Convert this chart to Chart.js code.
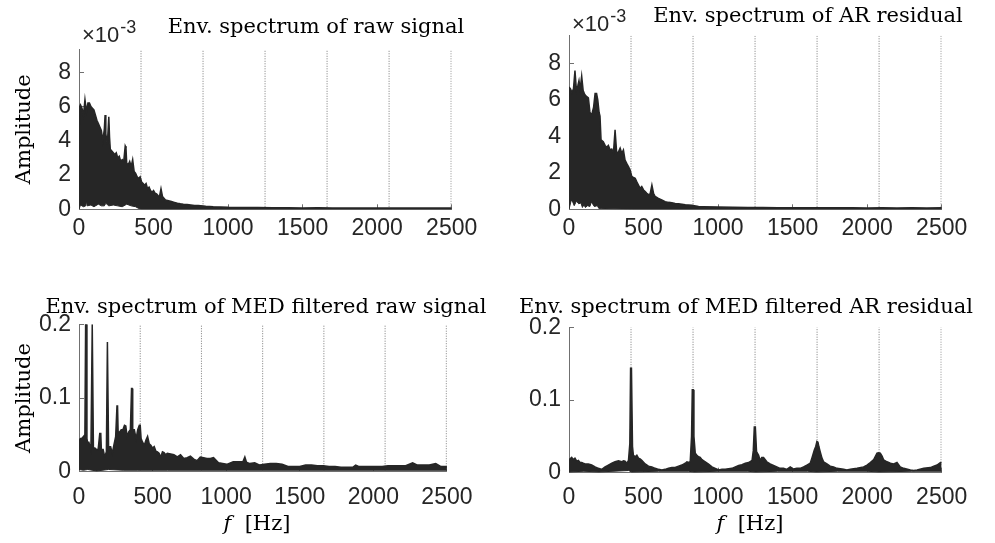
<!DOCTYPE html>
<html>
<head>
<meta charset="utf-8">
<script src="https://cdn.jsdelivr.net/npm/chart.js@4.4.0/dist/chart.umd.min.js"></script>
<style>
body { margin: 0; background: #fff; }
#wrap { position: relative; width: 995px; height: 543px; }
canvas { position: absolute; }
</style>
</head>
<body>
<div id="wrap">
<canvas id="c1" width="490" height="260" style="left:0;top:0"></canvas>
<canvas id="c2" width="505" height="260" style="left:490px;top:0"></canvas>
<canvas id="c3" width="490" height="283" style="left:0;top:260px"></canvas>
<canvas id="c4" width="505" height="283" style="left:490px;top:260px"></canvas>
</div>
<script>
// fault frequency harmonics (dotted lines), Hz
const faultHarmonics = [416, 832, 1248, 1664, 2080, 2496];

// envelope spectrum of raw signal, amplitude in units of 1e-3
const rawFreq = [0,5,10,20,30,40,50,60,70,80,
  90,100,110,120,130,140,150,160,170,175,
  180,190,200,205,210,220,230,240,250,260,
  270,280,290,300,310,315,320,330,340,350,
  360,370,380,390,400,410,420,430,440,450,
  460,470,480,490,500,510,520,530,540,550,
  560,570,580,600,620,640,660,680,700,725,
  750,775,800,850,900,950,1000,1100,1200,1300,
  1400,1500,1600,1700,1800,1900,2000,2100,2200,2300,
  2400,2500];
const rawUpper = [5.0,6.0,6.1,5.9,5.5,6.4,5.7,6.2,6.2,6.0,
  5.9,5.8,5.5,5.2,5.0,4.8,4.6,4.0,4.7,5.5,
  4.4,3.8,5.4,4.2,3.5,3.4,3.3,3.2,3.3,3.0,
  3.1,2.8,2.9,2.8,3.7,3.6,2.7,2.6,2.8,2.5,
  2.9,2.2,2.1,1.9,1.8,1.9,1.6,1.5,1.4,1.5,
  1.2,1.3,1.1,1.0,1.1,0.95,0.9,0.8,0.75,1.2,
  0.75,0.65,0.55,0.5,0.45,0.4,0.35,0.32,0.3,0.28,
  0.25,0.22,0.22,0.18,0.15,0.14,0.12,0.1,0.1,0.09,
  0.09,0.08,0.09,0.08,0.08,0.07,0.08,0.07,0.07,0.08,
  0.07,0.07];
const rawLowFreq = [0,10,30,45,50,55,80,100,130,150,170,180,200,230,260,290,320,350,380,400,420,2500];
const rawLower = [0,0.25,0.15,0.2,0.5,0.2,0.25,0.15,0.3,0.2,0.2,0.35,0.2,0.25,0.2,0.15,0.3,0.2,0.15,0.05,0,0];

// envelope spectrum of AR residual, amplitude in units of 1e-3
const arFreq = [0,10,20,30,40,50,60,67,75,85,
  95,105,115,130,140,150,165,175,185,193,
  202,208,215,230,242,253,264,276,287,298,
  309,320,332,343,354,365,376,388,399,410,
  421,432,444,455,466,477,488,500,511,522,
  533,544,556,567,578,600,622,645,668,690,
  712,735,780,824,869,900,1000,1100,1200,1300,
  1400,1500,1600,1700,1800,1900,2000,2100,2200,2300,
  2400,2500];
const arUpper = [6.7,6.6,6.4,6.6,7.6,6.5,6.8,7.05,6.6,7.3,
  6.5,6.3,6.2,6.1,5.35,5.1,5.6,6.35,6.35,6.0,
  5.3,5.1,3.8,3.7,3.5,3.4,3.5,3.25,3.3,3.1,
  4.35,3.07,3.15,3.35,3.07,3.25,2.7,2.5,2.34,2.15,
  1.8,1.75,1.7,1.5,1.33,1.15,1.25,1.06,0.97,0.88,
  0.8,0.85,1.33,0.88,0.7,0.6,0.52,0.42,0.38,0.36,
  0.32,0.3,0.25,0.22,0.15,0.14,0.12,0.11,0.1,0.1,
  0.09,0.09,0.08,0.09,0.08,0.08,0.07,0.08,0.07,0.08,
  0.07,0.08];
const arLowFreq = [0,15,25,35,50,65,80,90,100,110,125,140,150,170,190,200,215,430,2500];
const arLower = [0,0.5,0.4,0.2,0.45,0.3,0.35,0.1,0.25,0.1,0.2,0.15,0.4,0.15,0.2,0.05,0.05,0,0];

// envelope spectrum of MED filtered raw signal
const medRawFreq = [0,10,18,29,40,45,50,54,58,67,
  81,90,94,98,101,108,119,130,141,148,
  152,164,175,186,193,197,201,206,215,226,
  237,249,258,262,266,276,287,298,309,318,
  327,338,349,357,361,365,376,388,399,410,
  416,422,432,444,455,466,477,488,500,511,
  522,533,544,556,567,578,589,600,623,645,
  668,690,712,735,757,780,802,824,847,869,
  892,914,948,1004,1048,1093,1115,1127,1138,1160,
  1194,1228,1260,1300,1340,1380,1420,1460,1500,1540,
  1580,1620,1660,1700,1740,1780,1820,1860,1880,1900,
  1940,1980,2020,2060,2100,2140,2180,2220,2267,2300,
  2340,2380,2424,2460,2500];
const medRawUpper = [0.043,0.045,0.045,0.0475,0.05,0.2,0.2,0.045,0.04,0.04,
  0.03,0.2,0.2,0.032,0.032,0.032,0.03,0.03,0.052,0.052,
  0.03,0.03,0.02,0.027,0.176,0.176,0.034,0.034,0.034,0.025,
  0.036,0.0475,0.089,0.089,0.054,0.054,0.057,0.057,0.063,0.062,
  0.0475,0.054,0.057,0.113,0.113,0.057,0.057,0.045,0.057,0.063,
  0.063,0.045,0.04,0.036,0.043,0.048,0.038,0.036,0.032,0.034,
  0.028,0.027,0.025,0.02,0.027,0.026,0.023,0.025,0.024,0.023,
  0.02,0.023,0.018,0.019,0.021,0.017,0.015,0.02,0.019,0.018,
  0.018,0.019,0.012,0.01,0.0135,0.0135,0.014,0.02,0.013,0.011,
  0.012,0.009,0.01,0.011,0.011,0.01,0.007,0.007,0.007,0.009,
  0.009,0.008,0.008,0.007,0.007,0.006,0.006,0.006,0.009,0.007,
  0.007,0.007,0.007,0.007,0.008,0.008,0.008,0.008,0.012,0.009,
  0.009,0.009,0.011,0.007,0.007];
const medRawLowFreq = [0,30,60,120,200,300,400,600,1000,1500,2000,2500];
const medRawLower = [0.003,0.002,0.003,0.001,0.003,0.002,0.002,0.002,0.002,0.002,0.002,0.002];

// envelope spectrum of MED filtered AR residual
const medArFreq = [0,18,29,40,52,63,74,85,96,108,
  119,130,152,175,197,220,242,264,287,309,
  332,354,365,376,388,399,408,413,419,426,
  432,444,455,466,477,488,511,533,556,578,
  600,623,645,668,690,712,735,757,780,791,
  802,813,822,827,833,838,847,858,869,880,
  892,914,936,959,981,1004,1026,1048,1093,1138,
  1160,1183,1205,1228,1236,1243,1250,1258,1272,1282,
  1293,1305,1327,1349,1372,1394,1416,1439,1461,1484,
  1506,1528,1551,1573,1596,1618,1629,1645,1655,1663,
  1670,1676,1685,1697,1708,1730,1752,1775,1797,1842,
  1864,1887,1932,1976,1999,2021,2044,2066,2077,2088,
  2100,2111,2133,2156,2178,2200,2222,2245,2290,2312,
  2335,2380,2424,2447,2469,2492,2500];
const medArUpper = [0.018,0.021,0.018,0.02,0.016,0.017,0.014,0.014,0.013,0.012,
  0.012,0.012,0.0105,0.008,0.006,0.0046,0.008,0.0105,0.013,0.015,
  0.0165,0.015,0.0165,0.016,0.013,0.017,0.04,0.1436,0.1436,0.036,
  0.024,0.022,0.024,0.02,0.019,0.017,0.012,0.009,0.008,0.006,
  0.0046,0.0037,0.0046,0.006,0.0073,0.0073,0.009,0.0105,0.013,0.015,
  0.014,0.015,0.05,0.114,0.114,0.05,0.0266,0.024,0.022,0.021,
  0.018,0.015,0.012,0.008,0.006,0.0037,0.0046,0.0046,0.006,0.01,
  0.011,0.013,0.014,0.017,0.03,0.063,0.063,0.029,0.024,0.017,
  0.021,0.021,0.015,0.012,0.01,0.008,0.006,0.006,0.0046,0.008,
  0.005,0.006,0.006,0.008,0.0105,0.013,0.02,0.031,0.036,0.043,
  0.042,0.036,0.029,0.02,0.015,0.012,0.009,0.008,0.006,0.0046,
  0.0037,0.0046,0.006,0.008,0.0105,0.014,0.018,0.027,0.0275,0.027,
  0.023,0.0175,0.015,0.013,0.012,0.014,0.008,0.006,0.0037,0.003,
  0.0037,0.006,0.007,0.009,0.0105,0.014,0.014];
const medArLowFreq = [0,100,200,400,420,600,800,840,1000,1200,1250,1400,1600,1660,1800,2000,2080,2300,2500];
const medArLower = [0.001,0.002,0.001,0.003,0.001,0.002,0.002,0.001,0.002,0.002,0.001,0.002,0.002,0.001,0.002,0.002,0.001,0.002,0.002];

const xTicks = [0, 500, 1000, 1500, 2000, 2500];

const ink = '#262626';
const axisCol = '#707070';
const tickFont = { family: '"Liberation Sans", Arial, sans-serif', size: 23 };
const labelFont = { family: '"DejaVu Serif", serif', size: 21 };

function pts(freq, vals) {
  return freq.map((f, i) => ({ x: f, y: vals[i] }));
}

// titles, x-label with italic f, and the x10^-3 exponent
const panelText = {
  id: 'panelText',
  afterDraw(chart, args, o) {
    const c = chart.ctx;
    c.save();
    c.fillStyle = '#000';
    c.textBaseline = 'alphabetic';
    c.textAlign = 'center';
    c.font = '21px "DejaVu Serif"';
    c.fillText(o.title, o.titleX, o.titleY);
    if (o.xLabelX) {
      c.textAlign = 'left';
      c.font = 'italic 21px "DejaVu Serif"';
      const wf = c.measureText('f').width;
      c.font = '21px "DejaVu Serif"';
      const rest = '  [Hz]';
      const wr = c.measureText(rest).width;
      const x0 = o.xLabelX - (wf + wr) / 2;
      c.fillText(rest, x0 + wf, o.xLabelY);
      c.font = 'italic 21px "DejaVu Serif"';
      c.fillText('f', x0, o.xLabelY);
    }
    if (o.expX) {
      c.textAlign = 'left';
      c.fillStyle = ink;
      c.font = '22px "Liberation Sans"';
      c.fillText('\u00d710', o.expX, o.expY);
      const w = c.measureText('\u00d710').width;
      c.font = '18px "Liberation Sans"';
      c.fillText('-3', o.expX + w + 1, o.expY - 9);
    }
    c.restore();
  }
};

function makePanel(id, o) {
  const datasets = [
    { data: pts(o.freq, o.upper), borderColor: ink, backgroundColor: ink, borderWidth: 1.5, fill: '+1' },
    { data: pts(o.lowFreq, o.lower), borderColor: ink, borderWidth: 1, fill: false }
  ];
  faultHarmonics.forEach(f => {
    datasets.push({ data: [{ x: f, y: 0 }, { x: f, y: o.yMax }], borderColor: '#7a7a7a', borderWidth: 1, borderDash: [1, 1.5], fill: false });
  });

  new Chart(document.getElementById(id).getContext('2d'), {
    type: 'line',
    data: { datasets },
    options: {
      responsive: false,
      animation: false,
      events: [],
      elements: { point: { radius: 0 }, line: { tension: 0 } },
      layout: { padding: o.pad },
      plugins: {
        legend: { display: false },
        tooltip: { enabled: false },
        panelText: o.text
      },
      scales: {
        x: {
          type: 'linear', min: 0, max: 2500,
          afterFit: s => { s.height = o.xh; },
          afterBuildTicks: s => { s.ticks = xTicks.map(v => ({ value: v })); },
          border: { display: true, color: axisCol, width: 1 },
          grid: { display: true, drawOnChartArea: false, drawTicks: true, tickLength: -5, color: axisCol },
          ticks: { autoSkip: false, maxRotation: 0, padding: o.xPad, color: ink, font: tickFont, callback: v => String(v) }
        },
        y: {
          type: 'linear', min: 0, max: o.yMax,
          afterFit: s => { s.width = 79; },
          border: { display: true, color: axisCol, width: 1 },
          grid: { display: true, drawOnChartArea: false, drawTicks: true, tickLength: -5, color: axisCol },
          ticks: { stepSize: o.yStep, includeBounds: false, padding: 13, color: ink, font: tickFont, callback: o.yFmt },
          title: {
            display: !!o.yTitle, text: 'Amplitude', color: '#000', font: labelFont,
            padding: { top: 12, bottom: 0 }
          }
        }
      }
    },
    plugins: [panelText]
  });
}

const fmtMilli = v => String(Math.round(v));
const fmtTenth = v => (v === 0 ? '0' : v.toFixed(1));

makePanel('c1', {
  freq: rawFreq, upper: rawUpper, lowFreq: rawLowFreq, lower: rawLower,
  yMax: 9.34, yStep: 2, yFmt: fmtMilli, yTitle: true,
  pad: { top: 49.3, left: 0, right: 38.3, bottom: 0.7 }, xh: 50, xPad: 10.4,
  text: { title: 'Env. spectrum of raw signal', titleX: 316, titleY: 33, expX: 82, expY: 41.5 }
});
makePanel('c2', {
  freq: arFreq, upper: arUpper, lowFreq: arLowFreq, lower: arLower,
  yMax: 9.51, yStep: 2, yFmt: fmtMilli, yTitle: false,
  pad: { top: 35.7, left: 0, right: 53.3, bottom: 0.7 }, xh: 50, xPad: 10.4,
  text: { title: 'Env. spectrum of AR residual', titleX: 318, titleY: 22, expX: 82, expY: 30.5 }
});
makePanel('c3', {
  freq: medRawFreq, upper: medRawUpper, lowFreq: medRawLowFreq, lower: medRawLower,
  yMax: 0.2, yStep: 0.1, yFmt: fmtTenth, yTitle: true,
  pad: { top: 64.3, left: 0, right: 38.3, bottom: 0 }, xh: 71.3, xPad: 17.5,
  text: { title: 'Env. spectrum of MED filtered raw signal', titleX: 266, titleY: 53, xLabelX: 257, xLabelY: 270 }
});
makePanel('c4', {
  freq: medArFreq, upper: medArUpper, lowFreq: medArLowFreq, lower: medArLower,
  yMax: 0.2, yStep: 0.1, yFmt: fmtTenth, yTitle: false,
  pad: { top: 67.3, left: 0, right: 53.3, bottom: 0 }, xh: 70.3, xPad: 16.5,
  text: { title: 'Env. spectrum of MED filtered AR residual', titleX: 256, titleY: 53, xLabelX: 260, xLabelY: 270 }
});
</script>
</body>
</html>
